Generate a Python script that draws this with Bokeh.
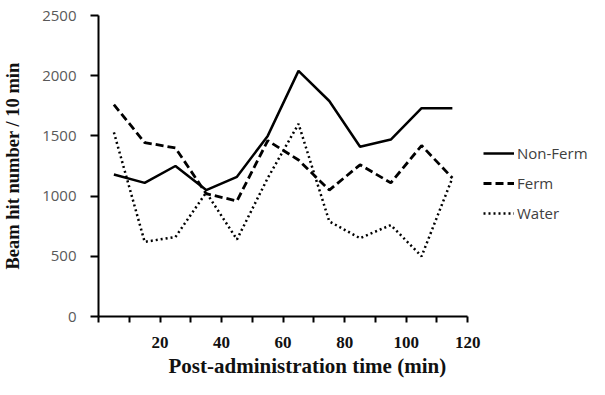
from bokeh.plotting import figure
from bokeh.models import Legend, LegendItem, FixedTicker, Range1d, Title
from bokeh.embed import file_html
from bokeh.resources import INLINE

# ---- data ----
time_min = [5, 15, 25, 35, 45, 55, 65, 75, 85, 95, 105, 115]
non_ferm = [1180, 1110, 1250, 1050, 1160, 1500, 2040, 1790, 1410, 1470, 1730, 1730]
ferm = [1760, 1445, 1400, 1020, 960, 1460, 1300, 1050, 1260, 1110, 1420, 1150]
water = [1530, 620, 660, 1030, 640, 1150, 1600, 790, 650, 760, 500, 1150]

x_ticks = [0, 10, 20, 30, 40, 50, 60, 70, 80, 90, 100, 110, 120]
x_tick_labels = ["", "", "20", "", "40", "", "60", "", "80", "", "100", "", "120"]
y_ticks = [0, 500, 1000, 1500, 2000, 2500]
x_title = "Post-administration time (min)"
y_title = "Beam hit number / 10 min"

X_MAX = 120
# frame spans the legend area too; axis is bounded to 0..120 (370 px)
FRAME_W = 589 - 97
x_end = X_MAX * FRAME_W / 370.0

p = figure(width=589, height=379, output_backend="svg", toolbar_location=None,
           x_range=Range1d(0, x_end), y_range=Range1d(0, 2500),
           min_border_left=97, min_border_right=0, min_border_top=15, min_border_bottom=63)
p.grid.visible = False
p.outline_line_color = None
p.background_fill_color = "white"
p.border_fill_color = "white"

r1 = p.line(time_min, non_ferm, line_color="black", line_width=2.5)
r2 = p.line(time_min, ferm, line_color="black", line_width=2.8, line_dash="8 4")
r3 = p.line(time_min, water, line_color="black", line_width=2.5, line_dash="2 3")

# x axis
xa = p.xaxis[0]
xa.bounds = (0, X_MAX)
xa.ticker = FixedTicker(ticks=x_ticks)
xa.major_label_overrides = {t: lab for t, lab in zip(x_ticks, x_tick_labels)}
xa.minor_tick_line_color = None
xa.major_tick_in = 0
xa.major_tick_out = 6
xa.axis_line_width = 2
xa.major_tick_line_width = 2
xa.axis_line_color = "black"
xa.major_tick_line_color = "black"
xa.major_label_text_font = "Liberation Serif"
xa.major_label_text_font_style = "bold"
xa.major_label_text_font_size = "17px"
xa.major_label_text_color = "#111111"
xa.major_label_standoff = 14

# x title, centred under the bounded axis
xt = Title(text=x_title, align="left", offset=70, standoff=3,
           text_font="Liberation Serif", text_font_style="bold",
           text_font_size="21px", text_color="#111111")
p.add_layout(xt, "below")

# y axis
ya = p.yaxis[0]
ya.ticker = FixedTicker(ticks=y_ticks)
ya.minor_tick_line_color = None
ya.major_tick_in = 0
ya.major_tick_out = 8
ya.axis_line_width = 2
ya.major_tick_line_width = 2
ya.axis_line_color = "black"
ya.major_tick_line_color = "black"
ya.major_label_text_font = "Open Sans"
ya.major_label_text_font_size = "15px"
ya.major_label_text_color = "#595959"
ya.major_label_standoff = 14
ya.axis_label = y_title
ya.axis_label_text_font = "Liberation Serif"
ya.axis_label_text_font_style = "bold"
ya.axis_label_text_font_size = "18.5px"
ya.axis_label_text_color = "#111111"
ya.axis_label_standoff = 16

legend = Legend(items=[LegendItem(label="Non-Ferm", renderers=[r1]),
                       LegendItem(label="Ferm", renderers=[r2]),
                       LegendItem(label="Water", renderers=[r3])],
                location=(385, 93))
legend.label_text_font = "Open Sans"
legend.label_text_font_size = "15px"
legend.label_text_color = "#404040"
legend.glyph_width = 31
legend.glyph_height = 20
legend.label_height = 20
legend.spacing = 10
legend.padding = 0
legend.margin = 0
legend.label_standoff = 3
legend.border_line_alpha = 0
legend.background_fill_alpha = 0
p.add_layout(legend)

open("out.html", "w").write(file_html(p, INLINE))
